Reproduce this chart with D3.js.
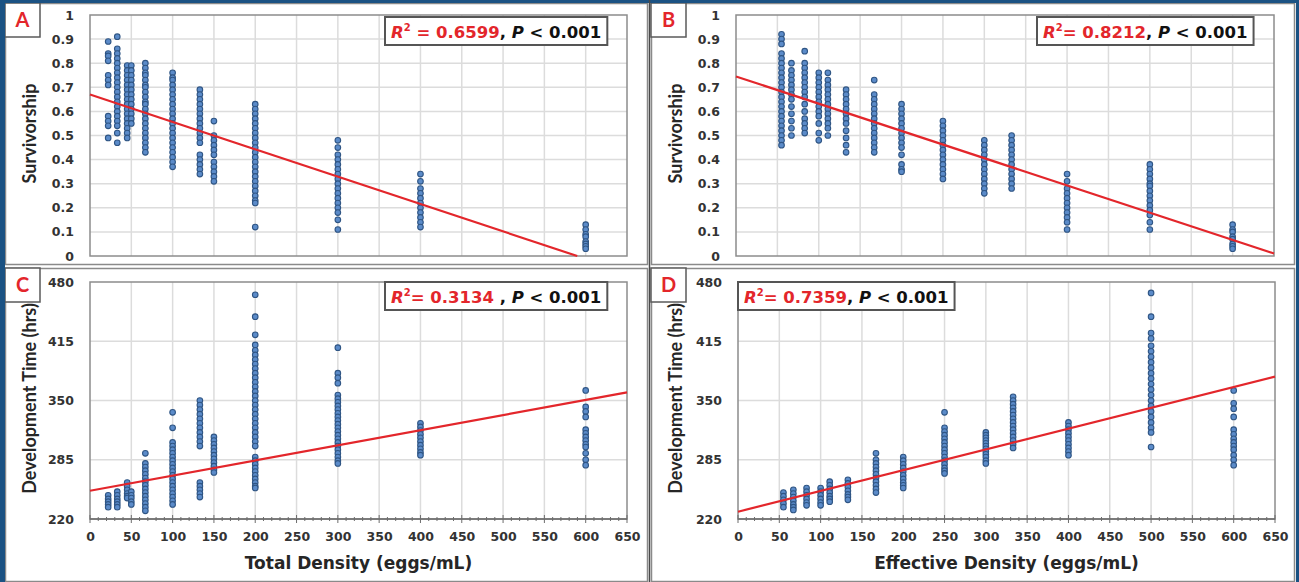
<!DOCTYPE html>
<html>
<head>
<meta charset="utf-8">
<script src="https://cdn.jsdelivr.net/npm/d3@7"></script>
<style>
  html, body { margin: 0; padding: 0; background: #fff; }
  svg { display: block; }
</style>
</head>
<body>
<svg id="chart" width="1299" height="582"></svg>
<script>
// ---- data -------------------------------------------------------------
// Rearing densities (eggs/mL)
const totalDensity = [22, 33, 45, 50, 67, 100, 133, 150, 200, 300, 400, 600];
const effectiveDensity = [55, 67, 83, 100, 111, 133, 167, 200, 250, 300, 333, 400, 500, 600];

// Survivorship per replicate, one list per total density
const survivalTotal = [
  [0.89, 0.84, 0.83, 0.81, 0.75, 0.73, 0.71, 0.58, 0.56, 0.54, 0.49],
  [0.91, 0.86, 0.84, 0.82, 0.80, 0.78, 0.76, 0.74, 0.72, 0.70, 0.68, 0.66, 0.64, 0.62, 0.60, 0.58, 0.56, 0.54, 0.51, 0.47],
  [0.79, 0.77, 0.75, 0.73, 0.71, 0.69, 0.67, 0.65, 0.63, 0.61, 0.59, 0.57, 0.55, 0.53, 0.51, 0.49],
  [0.79, 0.77, 0.75, 0.73, 0.71, 0.69, 0.67, 0.65, 0.63, 0.61, 0.59, 0.57, 0.55],
  [0.80, 0.78, 0.76, 0.75, 0.73, 0.71, 0.70, 0.68, 0.66, 0.64, 0.63, 0.61, 0.59, 0.57, 0.55, 0.53, 0.51, 0.49, 0.47, 0.45, 0.43],
  [0.76, 0.74, 0.73, 0.71, 0.69, 0.67, 0.65, 0.63, 0.61, 0.59, 0.57, 0.55, 0.53, 0.51, 0.49, 0.47, 0.45, 0.43, 0.41, 0.39, 0.37],
  [0.69, 0.67, 0.65, 0.63, 0.61, 0.59, 0.57, 0.55, 0.53, 0.51, 0.49, 0.47, 0.42, 0.40, 0.38, 0.36, 0.34],
  [0.56, 0.50, 0.48, 0.46, 0.44, 0.42, 0.39, 0.37, 0.35, 0.33, 0.31],
  [0.63, 0.61, 0.59, 0.57, 0.55, 0.53, 0.51, 0.49, 0.47, 0.45, 0.43, 0.41, 0.39, 0.37, 0.35, 0.33, 0.31, 0.29, 0.27, 0.25, 0.23, 0.22, 0.12],
  [0.48, 0.45, 0.42, 0.40, 0.38, 0.36, 0.34, 0.32, 0.30, 0.28, 0.26, 0.24, 0.22, 0.20, 0.18, 0.15, 0.11],
  [0.34, 0.31, 0.28, 0.26, 0.24, 0.22, 0.20, 0.18, 0.16, 0.14, 0.12],
  [0.13, 0.11, 0.09, 0.08, 0.06, 0.05, 0.04, 0.03]
];

// Survivorship per replicate, one list per effective density
const survivalEffective = [
  [0.92, 0.90, 0.88, 0.84, 0.82, 0.80, 0.78, 0.76, 0.74, 0.72, 0.70, 0.68, 0.66, 0.64, 0.62, 0.60, 0.58, 0.56, 0.54, 0.52, 0.50, 0.48, 0.46],
  [0.80, 0.77, 0.75, 0.73, 0.71, 0.69, 0.67, 0.65, 0.62, 0.59, 0.56, 0.53, 0.50],
  [0.85, 0.80, 0.78, 0.76, 0.74, 0.72, 0.70, 0.68, 0.66, 0.63, 0.60, 0.57, 0.55, 0.53, 0.51],
  [0.76, 0.74, 0.72, 0.70, 0.68, 0.66, 0.64, 0.62, 0.60, 0.58, 0.55, 0.51, 0.48],
  [0.76, 0.73, 0.71, 0.69, 0.67, 0.65, 0.63, 0.61, 0.59, 0.57, 0.55, 0.53, 0.50],
  [0.69, 0.67, 0.65, 0.63, 0.61, 0.59, 0.57, 0.55, 0.52, 0.49, 0.46, 0.43],
  [0.73, 0.67, 0.65, 0.63, 0.61, 0.59, 0.57, 0.55, 0.53, 0.51, 0.49, 0.47, 0.45, 0.43],
  [0.63, 0.61, 0.59, 0.57, 0.55, 0.53, 0.51, 0.49, 0.47, 0.45, 0.42, 0.38, 0.36, 0.35],
  [0.56, 0.54, 0.52, 0.50, 0.48, 0.46, 0.44, 0.42, 0.40, 0.38, 0.36, 0.34, 0.32],
  [0.48, 0.46, 0.44, 0.42, 0.40, 0.38, 0.36, 0.34, 0.32, 0.30, 0.28, 0.26],
  [0.50, 0.48, 0.46, 0.44, 0.42, 0.40, 0.38, 0.36, 0.34, 0.32, 0.30, 0.28],
  [0.34, 0.31, 0.28, 0.26, 0.24, 0.22, 0.20, 0.18, 0.16, 0.14, 0.11],
  [0.38, 0.36, 0.34, 0.32, 0.30, 0.29, 0.27, 0.25, 0.23, 0.21, 0.19, 0.17, 0.14, 0.11],
  [0.13, 0.11, 0.10, 0.08, 0.07, 0.05, 0.04, 0.03]
];

// Development time (hrs) per replicate, one list per total density
const devTimeTotal = [
  [246, 242, 239, 236, 233],
  [250, 246, 242, 239, 236, 233],
  [260, 256, 252, 248, 245, 243],
  [250, 246, 243, 239, 236],
  [292, 281, 277, 273, 269, 265, 261, 257, 253, 249, 245, 241, 237, 233, 229],
  [337, 320, 304, 300, 296, 292, 288, 284, 280, 276, 272, 268, 264, 260, 256, 252, 248, 244, 240, 236],
  [350, 345, 340, 335, 330, 325, 320, 315, 310, 305, 300, 260, 256, 252, 248, 244],
  [310, 306, 302, 298, 294, 290, 286, 282, 278, 274, 271],
  [466, 442, 422, 411, 405, 400, 395, 390, 385, 380, 375, 370, 365, 360, 355, 350, 345, 340, 335, 330, 325, 320, 315, 310, 305, 300, 288, 284, 280, 276, 272, 268, 264, 260, 256, 254],
  [408, 380, 375, 369, 356, 352, 348, 344, 340, 336, 332, 328, 324, 320, 316, 312, 308, 304, 300, 296, 292, 288, 284, 281],
  [325, 321, 317, 313, 309, 305, 301, 297, 293, 290],
  [361, 343, 338, 332, 318, 314, 310, 306, 302, 299, 292, 285, 279]
];

// Development time (hrs) per replicate, one list per effective density
const devTimeEffective = [
  [249, 245, 241, 237, 233],
  [252, 248, 244, 240, 236, 233, 230],
  [254, 250, 246, 242, 238, 235],
  [254, 250, 246, 242, 238, 235],
  [261, 257, 253, 249, 245, 242, 239],
  [263, 259, 255, 251, 247, 244, 241],
  [292, 285, 281, 277, 273, 269, 265, 261, 257, 253, 249],
  [288, 284, 280, 276, 272, 268, 264, 260, 257, 254],
  [337, 320, 316, 312, 308, 304, 300, 296, 292, 288, 284, 280, 276, 273, 270],
  [315, 312, 309, 306, 303, 300, 297, 294, 291, 288, 284, 281],
  [354, 350, 346, 342, 338, 334, 330, 326, 322, 318, 314, 310, 306, 302, 298],
  [326, 322, 318, 314, 310, 306, 302, 298, 294, 290],
  [468, 442, 424, 418, 410, 404, 398, 392, 386, 380, 374, 368, 362, 356, 350, 344, 338, 332, 326, 320, 315, 299],
  [361, 347, 341, 332, 318, 313, 308, 304, 300, 296, 290, 285, 279]
];

// Linear fits (A, B, C, D) and their statistics
const fitIntercept = [0.67, 0.745, 251, 228];
const fitSlope = [-0.001136, -0.00113, 0.166, 0.228];
const r2Values = ["0.6599", "0.8212", "0.3134", "0.7359"];
const r2Separators = [" = ", "= ", "= ", "= "];
const r2Trailers = [", ", ", ", " , ", ", "];
const pLabel = "< 0.001";

// Axis ticks
const densityTicks = [0, 50, 100, 150, 200, 250, 300, 350, 400, 450, 500, 550, 600, 650];
const survivalTicks = [0, 0.1, 0.2, 0.3, 0.4, 0.5, 0.6, 0.7, 0.8, 0.9, 1];
const devTimeTicks = [220, 285, 350, 415, 480];
const panelLetters = ["A", "B", "C", "D"];
const yTitles = ["Survivorship", "Survivorship", "Development Time (hrs)", "Development Time (hrs)"];
const xTitles = [null, null, "Total Density (eggs/mL)", "Effective Density (eggs/mL)"];

// ---- layout -----------------------------------------------------------
const svg = d3.select("#chart");
const W = 1299, H = 582;
const BLUE = "#1b5283";
const RED = "#e3262b";
const TICK_FONT = "'DejaVu Sans', sans-serif";
const TITLE_FONT = "Lato, 'Open Sans', sans-serif";
const BOX_FONT = "'DejaVu Sans', sans-serif";

const panels = [
  { frame: [5, 3, 648, 265],   plot: [90, 15, 627, 256],   xs: totalDensity,     ys: survivalTotal,     yDomain: [0, 1],     yTicks: survivalTicks, xTickLabels: false, box: [385, 17], labelBox: [5, 3], yTitleSize: 18 },
  { frame: [651, 3, 1295, 265], plot: [736, 15, 1274, 256], xs: effectiveDensity, ys: survivalEffective, yDomain: [0, 1],     yTicks: survivalTicks, xTickLabels: false, box: [1037, 17], labelBox: [651, 3], yTitleSize: 18 },
  { frame: [5, 268, 648, 582], plot: [90, 282, 627, 519],  xs: totalDensity,     ys: devTimeTotal,      yDomain: [220, 480], yTicks: devTimeTicks,  xTickLabels: true,  box: [385, 282], labelBox: [5, 268], yTitleSize: 18 },
  { frame: [651, 268, 1295, 582], plot: [738, 282, 1275, 519], xs: effectiveDensity, ys: devTimeEffective, yDomain: [220, 480], yTicks: devTimeTicks, xTickLabels: true, box: [738, 282], labelBox: [651, 268], yTitleSize: 18 }
];

svg.append("rect").attr("width", W).attr("height", H).attr("fill", "#fff");

panels.forEach((p, i) => {
  const g = svg.append("g");
  const [fx0, fy0, fx1, fy1] = p.frame;
  const [px0, py0, px1, py1] = p.plot;

  // chart-area frame
  g.append("rect")
    .attr("x", fx0 + 0.5).attr("y", fy0 + 0.5)
    .attr("width", fx1 - fx0 - 1).attr("height", fy1 - fy0 - 1)
    .attr("fill", "#fff").attr("stroke", "#8a8a8a").attr("stroke-width", 1.5);

  const x = d3.scaleLinear().domain([0, 650]).range([px0, px1]);
  const y = d3.scaleLinear().domain(p.yDomain).range([py1, py0]);

  // grid
  g.append("g").selectAll("line").data(densityTicks.slice(1, -1)).join("line")
    .attr("x1", d => x(d)).attr("x2", d => x(d))
    .attr("y1", py0).attr("y2", py1)
    .attr("stroke", "#dcdcdc").attr("stroke-width", 1.5);
  g.append("g").selectAll("line").data(p.yTicks.slice(1, -1)).join("line")
    .attr("x1", px0).attr("x2", px1)
    .attr("y1", d => y(d)).attr("y2", d => y(d))
    .attr("stroke", "#dcdcdc").attr("stroke-width", 1.5);

  // plot border
  g.append("rect")
    .attr("x", px0).attr("y", py0)
    .attr("width", px1 - px0).attr("height", py1 - py0)
    .attr("fill", "none").attr("stroke", "#8c8c8c").attr("stroke-width", 1.5);

  // y axis labels
  const yAxis = d3.axisLeft(y).tickValues(p.yTicks).tickSize(0).tickPadding(16)
    .tickFormat(d => String(d));
  const ya = g.append("g").attr("transform", `translate(${px0},0)`).call(yAxis);
  ya.select(".domain").remove();
  ya.selectAll("text")
    .attr("font-family", TICK_FONT).attr("font-size", 12.5).attr("font-weight", "bold")
    .attr("fill", "#333");

  // x axis (only in the lower row)
  if (p.xTickLabels) {
    const minor = d3.range(0, 651, 10);
    const xa = g.append("g").attr("transform", `translate(0,${py1})`);
    xa.append("line").attr("x1", px0).attr("x2", px1)
      .attr("stroke", "#6d6d6d").attr("stroke-width", 1.5);
    xa.selectAll("line.minor").data(minor).join("line").attr("class", "minor")
      .attr("x1", d => x(d)).attr("x2", d => x(d))
      .attr("y1", d => d % 50 === 0 ? -4 : -2).attr("y2", d => d % 50 === 0 ? 4 : 2)
      .attr("stroke", "#6d6d6d").attr("stroke-width", 1);
    const xAxis = d3.axisBottom(x).tickValues(densityTicks).tickSize(0).tickPadding(13);
    const xl = g.append("g").attr("transform", `translate(0,${py1})`).call(xAxis);
    xl.select(".domain").remove();
    xl.selectAll("text")
      .attr("font-family", TICK_FONT).attr("font-size", 12.5).attr("font-weight", "bold")
      .attr("fill", "#333");
    g.append("text")
      .attr("x", (px0 + px1) / 2).attr("y", 569)
      .attr("text-anchor", "middle")
      .attr("font-family", TICK_FONT).attr("font-size", 17).attr("font-weight", "bold")
      .attr("fill", "#262626")
      .text(xTitles[i]);
  }

  // y axis title
  g.append("text")
    .attr("transform", `translate(${fx0 + 31},${(py0 + py1) / 2 - 2}) rotate(-90)`)
    .attr("text-anchor", "middle")
    .attr("font-family", TITLE_FONT).attr("font-size", p.yTitleSize).attr("font-weight", "bold")
    .attr("fill", "#262626")
    .text(yTitles[i]);

  // points
  const pts = [];
  p.xs.forEach((xv, k) => p.ys[k].forEach(v => pts.push([xv, v])));
  g.append("g").selectAll("circle").data(pts).join("circle")
    .attr("cx", d => x(d[0])).attr("cy", d => y(d[1]))
    .attr("r", 2.8)
    .attr("fill", "#5b8bc9").attr("stroke", "#2f5584").attr("stroke-width", 1.1);

  // regression line, clipped to the value range
  const b = fitIntercept[i], m = fitSlope[i];
  let xEnd = 650;
  const yMin = p.yDomain[0];
  if (b + m * xEnd < yMin) xEnd = (yMin - b) / m;
  g.append("line")
    .attr("x1", x(0)).attr("y1", y(b))
    .attr("x2", x(xEnd)).attr("y2", y(b + m * xEnd))
    .attr("stroke", RED).attr("stroke-width", 2.2);

  // statistics box
  const [bx, by] = p.box;
  const boxG = g.append("g");
  const boxRect = boxG.append("rect").attr("fill", "#fff").attr("stroke", "#555").attr("stroke-width", 2);
  const t = boxG.append("text")
    .attr("x", bx + 6).attr("y", by + 20.5)
    .attr("font-family", BOX_FONT).attr("font-size", 16.5).attr("font-weight", "bold");
  t.append("tspan").attr("fill", RED).attr("font-style", "italic").text("R");
  t.append("tspan").attr("fill", RED).attr("font-size", 10).attr("dy", -7).text("2");
  t.append("tspan").attr("fill", RED).attr("dy", 7).text(r2Separators[i] + r2Values[i]);
  t.append("tspan").attr("fill", "#111").text(r2Trailers[i]);
  t.append("tspan").attr("fill", "#111").attr("font-style", "italic").text("P");
  t.append("tspan").attr("fill", "#111").text(" " + pLabel);
  const tw = t.node().getComputedTextLength();
  boxRect.attr("x", bx).attr("y", by).attr("width", tw + 12).attr("height", 28);

  // panel letter
  const [lx, ly] = p.labelBox;
  g.append("rect").attr("x", lx).attr("y", ly).attr("width", 35).attr("height", 34)
    .attr("fill", "#fff").attr("stroke", "#5a5a5a").attr("stroke-width", 1.5);
  g.append("text").attr("x", lx + 17.5).attr("y", ly + 24)
    .attr("text-anchor", "middle")
    .attr("font-family", TITLE_FONT).attr("font-size", 20).attr("font-weight", "bold")
    .attr("fill", RED).text(panelLetters[i]);
});

// outer page border
svg.append("rect").attr("x", 0).attr("y", 0).attr("width", 5).attr("height", H).attr("fill", BLUE);
svg.append("rect").attr("x", 0).attr("y", 0).attr("width", W).attr("height", 3).attr("fill", BLUE);
svg.append("rect").attr("x", W - 3).attr("y", 0).attr("width", 3).attr("height", H).attr("fill", BLUE);
svg.append("line").attr("x1", 649.5).attr("x2", 649.5).attr("y1", 0).attr("y2", H)
  .attr("stroke", "#4a4a4a").attr("stroke-width", 1.5);
</script>
</body>
</html>
